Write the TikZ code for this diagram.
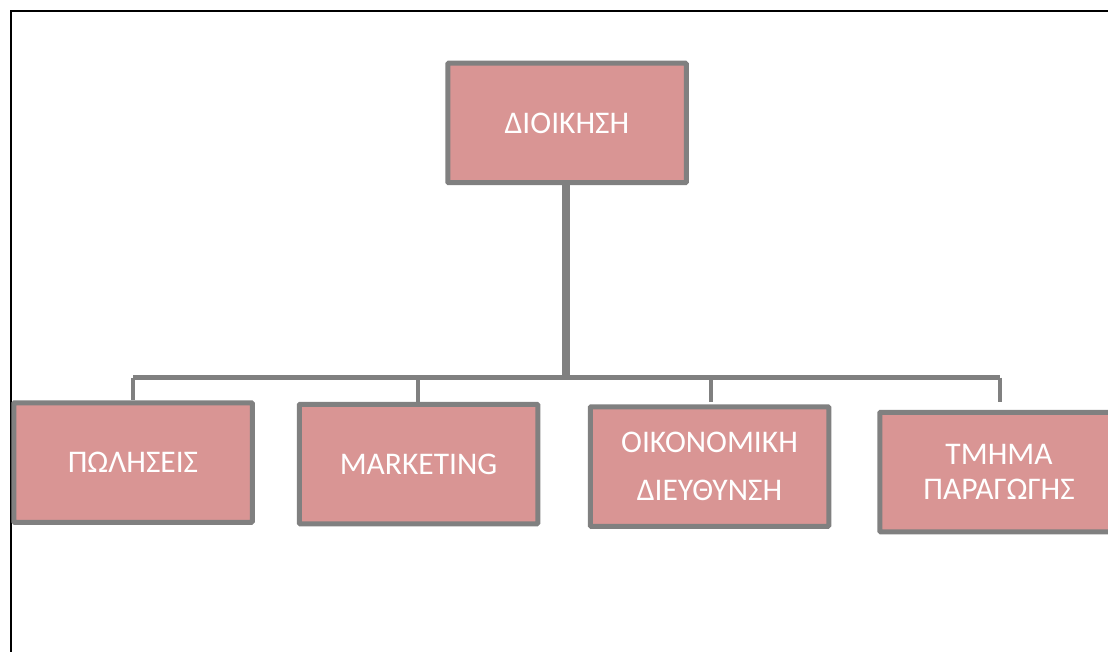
\documentclass[tikz,border=0pt]{standalone}
\usepackage{fontspec}
\setmainfont{Carlito}
\definecolor{boxfill}{HTML}{D99594}
\definecolor{linegray}{HTML}{808080}
\begin{document}
\begin{tikzpicture}[x=1pt,y=-1pt,
  unit/.style={draw=linegray, line width=5pt, fill=boxfill, text=white,
    minimum width=238.5pt, minimum height=119.5pt, inner sep=0pt, align=center,
    font=\fontsize{31.5}{38}\selectfont, rounded corners=1pt},
  conn/.style={draw=linegray, line width=4.5pt},
  trunk/.style={draw=linegray, line width=8pt}]
\useasboundingbox (0,0) rectangle (1108,652);
\fill[white] (0,0) rectangle (1108,652);
\draw[line width=2.5pt] (11,660) -- (11,11) -- (1115,11);
\node[unit] (top) at (567,123) {ΔΙΟΙΚΗΣΗ};
\node[unit] (s) at (133,462.5) {ΠΩΛΗΣΕΙΣ};
\node[unit] (m) at (418.5,464) {MARKETING};
\node[unit,font=\fontsize{31.5}{48}\selectfont] (f) at (709.5,466.5) {ΟΙΚΟΝΟΜΙΚΗ\\ΔΙΕΥΘΥΝΣΗ};
\node[unit,font=\fontsize{31.5}{35}\selectfont] (p) at (999,472) {ΤΜΗΜΑ\\ΠΑΡΑΓΩΓΗΣ};
\coordinate (j) at (566,377.5);
\draw[trunk] (top.south) ++(-1,0) -- (j);
\draw[conn] (133,377.5) -- (1000,377.5);
\draw[conn] (133,377.5) -- (s.north);
\draw[conn] (418,377.5) -- (m.north -| 418,0);
\draw[conn] (711,377.5) -- (711,402);
\draw[conn] (1000,377.5) -- (1000,402);
\end{tikzpicture}
\end{document}
